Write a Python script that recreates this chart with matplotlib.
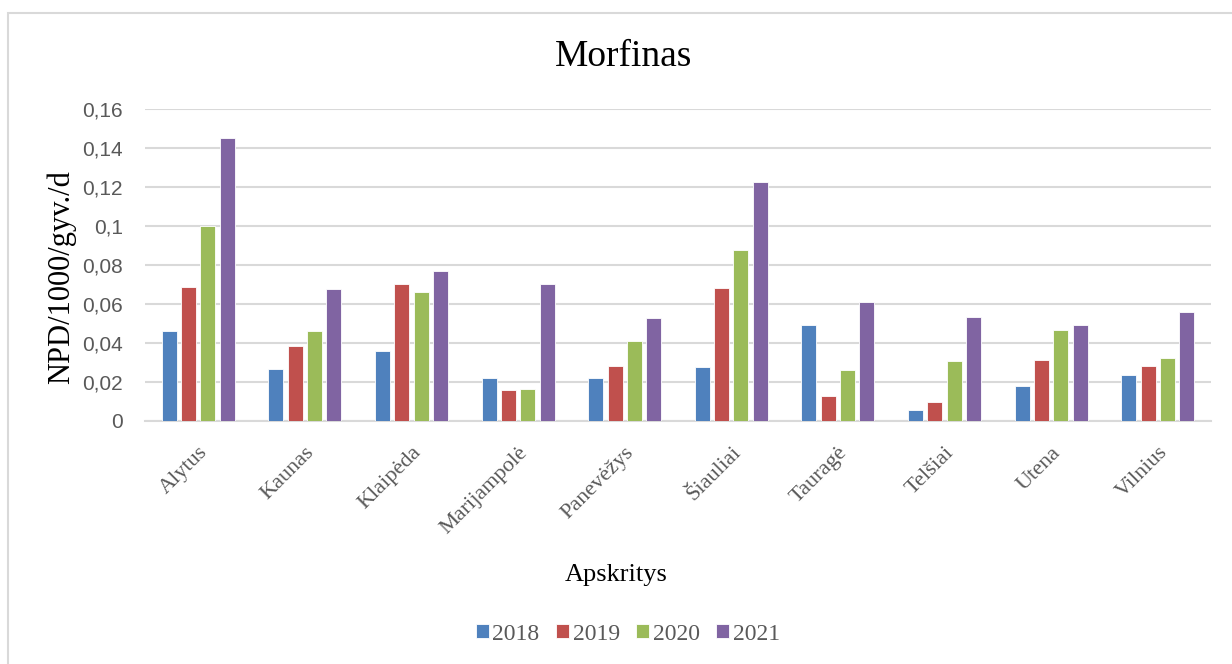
import numpy as np
import matplotlib
matplotlib.use('Agg')
from matplotlib import pyplot as plt
from matplotlib.patches import Rectangle

regions = ['Alytus', 'Kaunas', 'Klaipėda', 'Marijampolė', 'Panevėžys',
           'Šiauliai', 'Tauragė', 'Telšiai', 'Utena', 'Vilnius']
years = ['2018', '2019', '2020', '2021']
v2018 = [0.0463, 0.0267, 0.0359, 0.0221, 0.0222, 0.0277, 0.0490, 0.0056, 0.0178, 0.0234]
v2019 = [0.0689, 0.0383, 0.0704, 0.0157, 0.0284, 0.0682, 0.0130, 0.0097, 0.0315, 0.0284]
v2020 = [0.1000, 0.0462, 0.0660, 0.0164, 0.0410, 0.0875, 0.0260, 0.0306, 0.0467, 0.0323]
v2021 = [0.1450, 0.0677, 0.0769, 0.0703, 0.0526, 0.1226, 0.0610, 0.0533, 0.0490, 0.0557]
yticks = [0, 0.02, 0.04, 0.06, 0.08, 0.1, 0.12, 0.14, 0.16]
ytick_labels = ['0', '0,02', '0,04', '0,06', '0,08', '0,1', '0,12', '0,14', '0,16']

colors = ['#4F81BD', '#C0504D', '#9BBB59', '#8064A2']
serif = 'Liberation Serif'
grey = '#595959'
W, H = 1232, 664

fig = plt.figure(figsize=(12.32, 6.64), dpi=100)
ax = fig.add_axes([145/W, 1-421/H, (1211-145)/W, (421-109)/H])

# light frame around the chart area
fig.patches.append(Rectangle((8/W, -0.1), 1.2, 1-13/H+0.1, transform=fig.transFigure,
                             fill=False, edgecolor='#D9D9D9', linewidth=1.5))

x = np.arange(len(regions))
w = 0.14
step = 0.181
series = [v2018, v2019, v2020, v2021]
for i, vals in enumerate(series):
    ax.bar(x + (i - 1.5)*step, vals, w, color=colors[i], edgecolor='white',
           linewidth=0.6, label=years[i], zorder=3)

ax.set_xlim(-0.5, len(regions) - 0.5)
ax.set_ylim(0, 0.16)
ax.set_yticks(yticks)
ax.set_yticklabels(ytick_labels, fontsize=15, color=grey, family='Liberation Sans')
ax.yaxis.grid(True, color='#D9D9D9', linewidth=1.5, zorder=0)
ax.set_axisbelow(True)
ax.tick_params(axis='y', length=0, pad=16)
ax.tick_params(axis='x', length=0, pad=16)
ax.set_xticks(x)
ax.set_xticklabels(regions, rotation=45, ha='right', rotation_mode='anchor',
                   fontsize=16, color=grey, family=serif)
for s in ['top', 'right', 'left']:
    ax.spines[s].set_visible(False)
ax.spines['bottom'].set_color('#D9D9D9')
ax.spines['bottom'].set_linewidth(1.5)

fig.text(624/W, 1-57/H, 'Morfinas', fontsize=27, family=serif,
         ha='center', va='center')
fig.text(61/W, 1-277/H, 'NPD/1000/gyv./d', fontsize=22, family=serif,
         rotation=90, ha='center', va='center')
fig.text(616/W, 1-575/H, 'Apskritys', fontsize=19, family=serif,
         ha='center', va='center')

leg = ax.legend(loc='center', bbox_to_anchor=(628/W, 1-634/H),
                bbox_transform=fig.transFigure, ncol=4, frameon=False,
                prop={'family': serif, 'size': 17}, handlelength=0.55,
                handleheight=0.55, handletextpad=0.15, columnspacing=0.7)
for t in leg.get_texts():
    t.set_color(grey)

plt.savefig('out.png', dpi=100)
